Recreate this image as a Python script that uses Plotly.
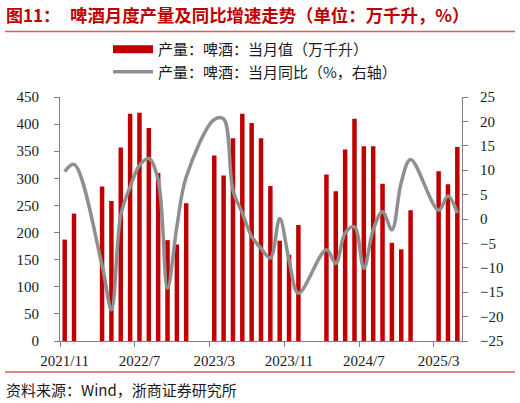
import plotly.graph_objects as go

# months that have a reported figure (Jan/Feb are not published separately)
MONTHS = [
    "2021/11", "2021/12",
    "2022/3", "2022/4", "2022/5", "2022/6", "2022/7", "2022/8", "2022/9", "2022/10", "2022/11", "2022/12",
    "2023/3", "2023/4", "2023/5", "2023/6", "2023/7", "2023/8", "2023/9", "2023/10", "2023/11", "2023/12",
    "2024/3", "2024/4", "2024/5", "2024/6", "2024/7", "2024/8", "2024/9", "2024/10", "2024/11", "2024/12",
    "2025/3", "2025/4", "2025/5",
]
OUTPUT = [
    187, 235,
    285, 258, 357, 419, 421, 393, 310, 186, 178, 254,
    342, 305, 374, 419, 402, 374, 286, 185, 159, 214,
    307, 276, 353, 410, 359, 359, 290, 181, 169, 241,
    313, 289, 358,
]
YOY = [
    9.7, 11.2,
    -9.5, -18.6, 0.8, 6.6, 11.0, 12.4, 8.0, -14.2, -1.6, 8.6,
    20.4, 20.5, 5.9, 1.2, -3.6, -6.0, -8.0, 0.1, -8.4, -15.2,
    -6.3, -9.1, -2.9, -1.6, -10.1, -2.2, 1.5, -2.2, 7.5, 12.2,
    1.8, 4.7, 1.2,
]
TICK_LABELS = ["2021/11", "2022/7", "2023/3", "2023/11", "2024/7", "2025/3"]
AXIS_START = (2021, 11)
AXIS_END = (2025, 5)

BAR_NAME = "产量：啤酒：当月值（万千升）"
LINE_NAME = "产量：啤酒：当月同比（%，右轴）"
TITLE_NO = "图11："
TITLE = "啤酒月度产量及同比增速走势（单位：万千升，%）"
SOURCE = "资料来源：Wind，浙商证券研究所"

COLORS = {
    "bar": "#C00000",
    "line": "#8F8F8F",
    "axis": "#7F7F7F",
    "title": "#C00000",
    "rule": "#D95C5C",
    "text": "#1A1A1A",
}
SERIF = "Liberation Serif, Times New Roman, serif"
CJK = "Noto Sans CJK SC, sans-serif"

W, H = 520, 403
L, R, T, B = 60, 462, 97, 341


def month_range(start, end):
    y, m = start
    out = []
    while (y, m) <= end:
        out.append(f"{y}/{m}")
        m += 1
        if m > 12:
            y, m = y + 1, 1
    return out


def px_x(x):
    return (x - L) / (R - L)


def px_y(y):
    return (B - y) / (B - T)


categories = month_range(AXIS_START, AXIS_END)
pos = {m: i for i, m in enumerate(categories)}
x_months = [pos[m] for m in MONTHS]
label_pos = [pos[t] for t in TICK_LABELS]

fig = go.Figure()
fig.add_trace(
    go.Bar(
        x=x_months,
        y=OUTPUT,
        marker=dict(color=COLORS["bar"], line=dict(width=0)),
        showlegend=False,
        name=BAR_NAME,
    )
)
# legend entry drawn as a wide red strip like the original
fig.add_trace(
    go.Scatter(
        x=[None], y=[None], mode="lines", name=BAR_NAME,
        line=dict(color=COLORS["bar"], width=8),
    )
)
fig.add_trace(
    go.Scatter(
        x=x_months,
        y=YOY,
        yaxis="y2",
        mode="lines",
        name=LINE_NAME,
        line=dict(color=COLORS["line"], width=3.5, shape="spline", smoothing=1),
    )
)

axis_common = dict(
    showline=True, linecolor=COLORS["axis"], linewidth=1,
    tickcolor=COLORS["axis"],
    showgrid=False, zeroline=False, automargin=False,
    tickfont=dict(family=SERIF, size=15, color=COLORS["text"]),
)

fig.update_layout(
    width=W, height=H,
    margin=dict(l=L, r=W - R, t=T, b=H - B, pad=0, autoexpand=False),
    plot_bgcolor="white", paper_bgcolor="white",
    bargap=0.52,
    xaxis=dict(
        range=[-0.5, len(categories) - 0.5],
        tickmode="array", tickvals=label_pos, ticktext=TICK_LABELS,
        ticks="", tickangle=0, ticklabelstandoff=6,
        # tick marks sit between categories, labels at the category centre
        minor=dict(
            tickmode="array", tickvals=[p - 0.5 for p in label_pos],
            ticks="outside", ticklen=5, tickcolor=COLORS["axis"], showgrid=False,
        ),
        **axis_common,
    ),
    yaxis=dict(range=[0, 450], dtick=50, ticks="outside", ticklen=5,
               ticklabelstandoff=12, **axis_common),
    yaxis2=dict(
        range=[-25, 25], dtick=5, overlaying="y", side="right",
        ticks="outside", ticklen=5, ticklabelstandoff=9, **axis_common,
    ),
    legend=dict(
        orientation="v", xref="container", yref="container",
        x=108 / W, xanchor="left", y=1 - 33 / H, yanchor="top",
        font=dict(family=CJK, size=15, color=COLORS["text"]),
        itemwidth=40, tracegroupgap=0, bgcolor="rgba(0,0,0,0)",
    ),
    showlegend=True,
)

fig.add_annotation(
    text=f"<b>{TITLE_NO}</b>", x=px_x(4), y=px_y(15), xref="paper", yref="paper",
    xanchor="left", yanchor="middle", showarrow=False,
    font=dict(family=CJK, size=17, color=COLORS["title"]),
)
fig.add_annotation(
    text=f"<b>{TITLE}</b>", x=px_x(68), y=px_y(15), xref="paper", yref="paper",
    xanchor="left", yanchor="middle", showarrow=False,
    font=dict(family=CJK, size=17.4, color=COLORS["title"]),
)
fig.add_annotation(
    text=SOURCE, x=px_x(4), y=px_y(389), xref="paper", yref="paper",
    xanchor="left", yanchor="middle", showarrow=False,
    font=dict(family=CJK, size=15, color=COLORS["text"]),
)
for y in (31.5, 372):
    fig.add_shape(
        type="line", xref="paper", yref="paper",
        x0=px_x(5), x1=px_x(515), y0=px_y(y), y1=px_y(y),
        line=dict(color=COLORS["rule"], width=1.5),
    )

fig.write_html(
    "out.html",
    config={"displayModeBar": False},
    post_script="document.body.style.margin='0px';",
)
